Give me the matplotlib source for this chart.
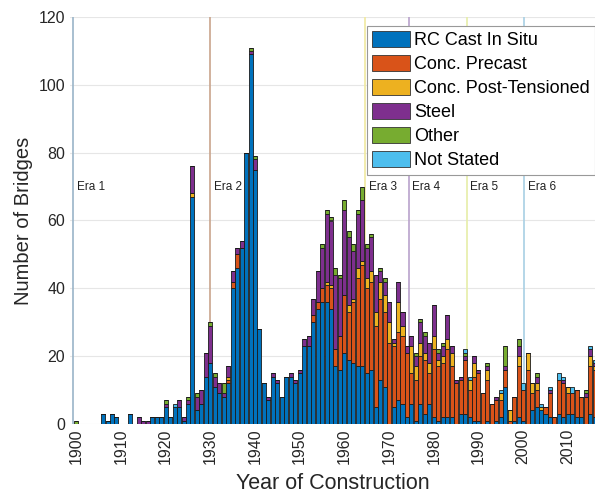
import matplotlib
matplotlib.use("Agg")
import matplotlib.pyplot as plt
import numpy as np

# bridge counts per year of construction (1900-2016), one list per structure type
years = list(range(1900, 2017))

rc_cast = [0, 0, 0, 0, 0, 0, 3, 1, 3, 2,
           0, 0, 3, 0, 0, 0, 0, 2, 2, 2,
           5, 2, 5, 5, 1, 6, 67, 4, 6, 14,
           18, 11, 9, 8, 12, 40, 46, 52, 80, 109,
           75, 28, 12, 7, 14, 12, 8, 14, 14, 12,
           15, 23, 23, 30, 34, 36, 36, 34, 17, 16,
           21, 19, 18, 17, 17, 15, 16, 5, 13, 11,
           0, 5, 7, 6, 2, 6, 1, 6, 3, 6,
           2, 1, 2, 2, 2, 0, 3, 3, 2, 1,
           1, 0, 1, 0, 1, 2, 11, 0, 1, 2,
           1, 0, 4, 5, 4, 3, 2, 0, 3, 2,
           3, 3, 2, 2, 0, 3, 2]
precast = [0, 0, 0, 0, 0, 0, 0, 0, 0, 0,
           0, 0, 0, 0, 0, 0, 0, 0, 0, 0,
           0, 0, 0, 0, 0, 0, 0, 0, 0, 0,
           0, 0, 0, 0, 1, 2, 4, 0, 0, 0,
           0, 0, 0, 0, 0, 0, 0, 0, 0, 0,
           0, 0, 0, 2, 2, 4, 5, 6, 5, 10,
           17, 14, 18, 26, 30, 25, 26, 24, 24, 22,
           24, 18, 20, 20, 19, 9, 12, 14, 16, 9,
           20, 16, 16, 20, 15, 12, 10, 16, 8, 13,
           14, 9, 12, 6, 6, 5, 5, 1, 7, 15,
           9, 16, 5, 5, 0, 2, 7, 2, 10, 10,
           6, 6, 8, 6, 8, 14, 14]
post_tens = [0, 0, 0, 0, 0, 0, 0, 0, 0, 0,
             0, 0, 0, 0, 0, 0, 0, 0, 0, 0,
             0, 0, 0, 0, 0, 0, 1, 0, 0, 0,
             0, 0, 0, 0, 1, 0, 0, 0, 0, 0,
             0, 0, 0, 0, 0, 0, 0, 0, 0, 0,
             0, 0, 0, 0, 0, 0, 1, 1, 0, 0,
             0, 2, 1, 3, 1, 3, 3, 4, 5, 5,
             6, 1, 9, 3, 0, 8, 4, 4, 2, 3,
             4, 2, 2, 3, 4, 0, 0, 0, 3, 4,
             0, 0, 3, 0, 0, 2, 0, 3, 0, 3,
             0, 5, 3, 2, 1, 0, 0, 0, 0, 0,
             2, 0, 0, 0, 0, 3, 1]
steel = [0, 0, 0, 0, 0, 0, 0, 0, 0, 0,
         0, 0, 0, 0, 2, 1, 1, 0, 0, 0,
         1, 0, 0, 2, 1, 1, 8, 4, 4, 7,
         11, 3, 3, 1, 3, 3, 2, 2, 0, 1,
         3, 0, 0, 1, 1, 1, 0, 0, 1, 1,
         1, 2, 3, 5, 9, 12, 20, 19, 22, 17,
         25, 20, 14, 16, 18, 9, 10, 11, 3, 4,
         6, 1, 6, 4, 2, 3, 3, 6, 5, 6,
         9, 2, 3, 7, 2, 1, 1, 1, 0, 2,
         1, 0, 1, 0, 1, 0, 1, 0, 0, 3,
         0, 0, 0, 2, 0, 0, 1, 0, 0, 1,
         0, 0, 0, 0, 1, 2, 1]
other = [1, 0, 0, 0, 0, 0, 0, 0, 0, 0,
         0, 0, 0, 0, 0, 0, 0, 0, 0, 0,
         1, 0, 0, 0, 0, 1, 0, 1, 0, 0,
         1, 1, 0, 3, 0, 0, 0, 0, 0, 1,
         1, 0, 0, 0, 0, 0, 0, 0, 0, 0,
         0, 0, 0, 0, 0, 1, 1, 1, 2, 1,
         3, 2, 2, 1, 4, 1, 1, 0, 1, 1,
         0, 0, 0, 0, 0, 0, 1, 1, 1, 0,
         0, 1, 1, 0, 0, 0, 0, 1, 0, 0,
         0, 0, 1, 0, 0, 0, 6, 0, 0, 2,
         0, 0, 0, 1, 0, 0, 0, 0, 0, 0,
         0, 0, 0, 0, 1, 0, 0]
not_stated = [0, 0, 0, 0, 0, 0, 0, 0, 0, 0,
              0, 0, 0, 0, 0, 0, 0, 0, 0, 0,
              0, 0, 1, 0, 0, 0, 0, 0, 0, 0,
              0, 0, 0, 0, 0, 0, 0, 0, 0, 0,
              0, 0, 0, 0, 0, 0, 0, 0, 0, 0,
              0, 0, 0, 0, 0, 0, 0, 0, 0, 0,
              0, 0, 0, 0, 0, 0, 0, 0, 0, 0,
              0, 0, 0, 0, 0, 0, 0, 0, 0, 0,
              0, 0, 0, 0, 0, 0, 0, 1, 1, 0,
              0, 0, 0, 0, 0, 1, 0, 0, 0, 0,
              2, 0, 0, 0, 1, 0, 1, 0, 2, 1,
              0, 2, 0, 0, 0, 1, 1]

series = [rc_cast, precast, post_tens, steel, other, not_stated]
labels = ["RC Cast In Situ", "Conc. Precast", "Conc. Post-Tensioned",
          "Steel", "Other", "Not Stated"]
colors = ["#0072BD", "#D95319", "#EDB120", "#7E2F8E", "#77AC30", "#4DBEEE"]

era_years = [1899.3, 1930.0, 1964.6, 1974.4, 1987.4, 2000.2]
era_names = ["Era 1", "Era 2", "Era 3", "Era 4", "Era 5", "Era 6"]
era_colors = ["#9ab4c8", "#c9a48c", "#f0e9a0", "#b9a2cc", "#e6eea8", "#a8d0e4"]

plt.rcParams['font.family'] = ['Liberation Sans', 'DejaVu Sans']

fig = plt.figure(figsize=(5.95, 4.94), dpi=100)
ax = fig.add_axes([70 / 595, 1 - 424 / 494, 526 / 595, 407 / 494])

bottom = np.zeros(len(years))
for vals, lab, col in zip(series, labels, colors):
    vals = np.array(vals, dtype=float)
    ax.bar(years, vals, width=0.9, bottom=bottom, color=col, label=lab,
           edgecolor="#1a1a1a", linewidth=0.6, zorder=3)
    bottom += vals

for yr, name, col in zip(era_years, era_names, era_colors):
    ax.axvline(yr, color=col, linewidth=1.2, zorder=2)
    ax.text(yr + 0.8, 70, name, fontsize=8.5, color="#222222",
            va="center", ha="left", zorder=4)

ax.set_xlim(1898.6, 2016.3)
ax.set_ylim(0, 120)
ax.set_xticks(range(1900, 2011, 10))
ax.set_xticklabels([str(y) for y in range(1900, 2011, 10)], rotation=90)
ax.set_yticks(range(0, 121, 20))
ax.tick_params(axis="both", labelsize=11.5, length=0, colors="#262626")
ax.grid(axis="y", color="#e6e6e6", linewidth=0.8, zorder=0)
for s in ax.spines.values():
    s.set_visible(False)

ax.set_xlabel("Year of Construction", fontsize=15.5, color="#262626",
              labelpad=6)
ax.set_ylabel("Number of Bridges", fontsize=14.5, color="#262626")

leg = ax.legend(loc="upper right", bbox_to_anchor=(525 / 526, 1 - 9 / 407),
                borderaxespad=0, fontsize=13, handlelength=2.1,
                handleheight=0.95, handletextpad=0.2, labelspacing=0.33,
                borderpad=0.3, fancybox=False, framealpha=1,
                edgecolor="#999999")
leg.get_frame().set_linewidth(0.8)
for h in leg.legend_handles:
    h.set_edgecolor("#333333")
    h.set_linewidth(0.6)

fig.savefig("out.png", dpi=100)
